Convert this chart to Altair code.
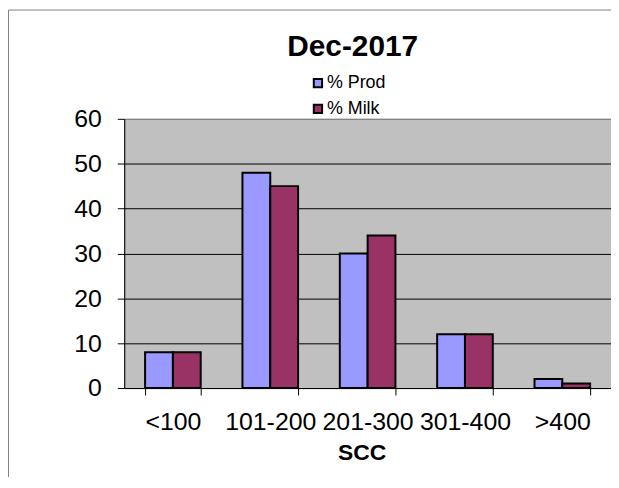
import altair as alt
import pandas as pd

# ---- data ----
categories = ["<100", "101-200", "201-300", "301-400", ">400"]
series_names = ["% Prod", "% Milk"]
prod_values = [8, 48, 30, 12, 2]
milk_values = [8, 45, 34, 12, 1]
y_ticks = [0, 10, 20, 30, 40, 50, 60]
title_text = "Dec-2017"
x_title = "SCC"

df = pd.DataFrame({
    "SCC": categories * 2,
    "series": [series_names[0]] * len(categories) + [series_names[1]] * len(categories),
    "value": prod_values + milk_values,
})

FONT = "Liberation Sans, Arial, sans-serif"
W, H = 490, 271

bars = alt.Chart(df).mark_bar(stroke="black", strokeWidth=2).encode(
    x=alt.X(
        "SCC:N",
        sort=categories,
        scale=alt.Scale(paddingInner=0.4286, paddingOuter=0.2143),
        axis=alt.Axis(
            title=x_title,
            labelAngle=0,
            labelFont=FONT,
            labelFontSize=25,
            labelColor="black",
            labelOverlap=False,
            labelPadding=15,
            tickBand="extent",
            tickSize=7,
            tickColor="black",
            domainColor="black",
            grid=False,
            titleFont=FONT,
            titleFontSize=23,
            titleFontWeight="bold",
            titleColor="black",
            titleX=239,
            titleY=72,
            titleAlign="center",
            titleBaseline="alphabetic",
        ),
    ),
    xOffset=alt.XOffset("series:N", sort=series_names,
                        scale=alt.Scale(paddingInner=0, paddingOuter=0)),
    y=alt.Y(
        "value:Q",
        scale=alt.Scale(domain=[0, 60], nice=False),
        axis=alt.Axis(
            title=None,
            values=y_ticks,
            grid=True,
            gridColor={"condition": {"test": "datum.value >= 60", "value": "#808080"}, "value": "black"},
            gridWidth=1,
            labelFont=FONT,
            labelFontSize=25,
            labelColor="black",
            labelPadding=16,
            tickSize=7,
            tickColor="black",
            domainColor="black",
        ),
    ),
    color=alt.Color(
        "series:N",
        sort=series_names,
        scale=alt.Scale(domain=series_names, range=["#9999FF", "#993366"]),
        legend=alt.Legend(
            title=None,
            orient="none",
            legendX=186,
            legendY=-45,
            direction="vertical",
            symbolType="square",
            symbolSize=70,
            symbolStrokeColor="black",
            symbolStrokeWidth=2,
            symbolOpacity=1,
            labelFont=FONT,
            labelFontSize=18,
            labelColor="black",
            labelOffset=0,
            rowPadding=8,
            padding=0,
        ),
    ),
)

# outer chart border (only its left and top edges fall inside the picture)
frame_base = alt.Chart(pd.DataFrame({"k": [0]}))
frame_left = frame_base.mark_rule(color="#808080", strokeWidth=1).encode(
    x=alt.value(-116.5), y=alt.value(-109.5), y2=alt.value(H + 120),
)
frame_top = frame_base.mark_rule(color="#808080", strokeWidth=1).encode(
    x=alt.value(-116.5), x2=alt.value(W + 200), y=alt.value(-109.5),
)

chart = alt.layer(frame_left, frame_top, bars).properties(
    width=W,
    height=H,
    title=alt.Title(title_text, font=FONT, fontSize=30, fontWeight="bold",
                    color="black", anchor="middle", dx=-15, offset=-76.5,
                    baseline="alphabetic"),
    autosize=alt.AutoSizeParams(type="none"),
    padding={"left": 117, "top": 110, "right": 0, "bottom": 88},
    background="white",
).configure_view(
    fill="#C0C0C0", stroke="#808080", strokeWidth=1
)

chart.save("out.html", embed_options={"renderer": "svg", "actions": False})
